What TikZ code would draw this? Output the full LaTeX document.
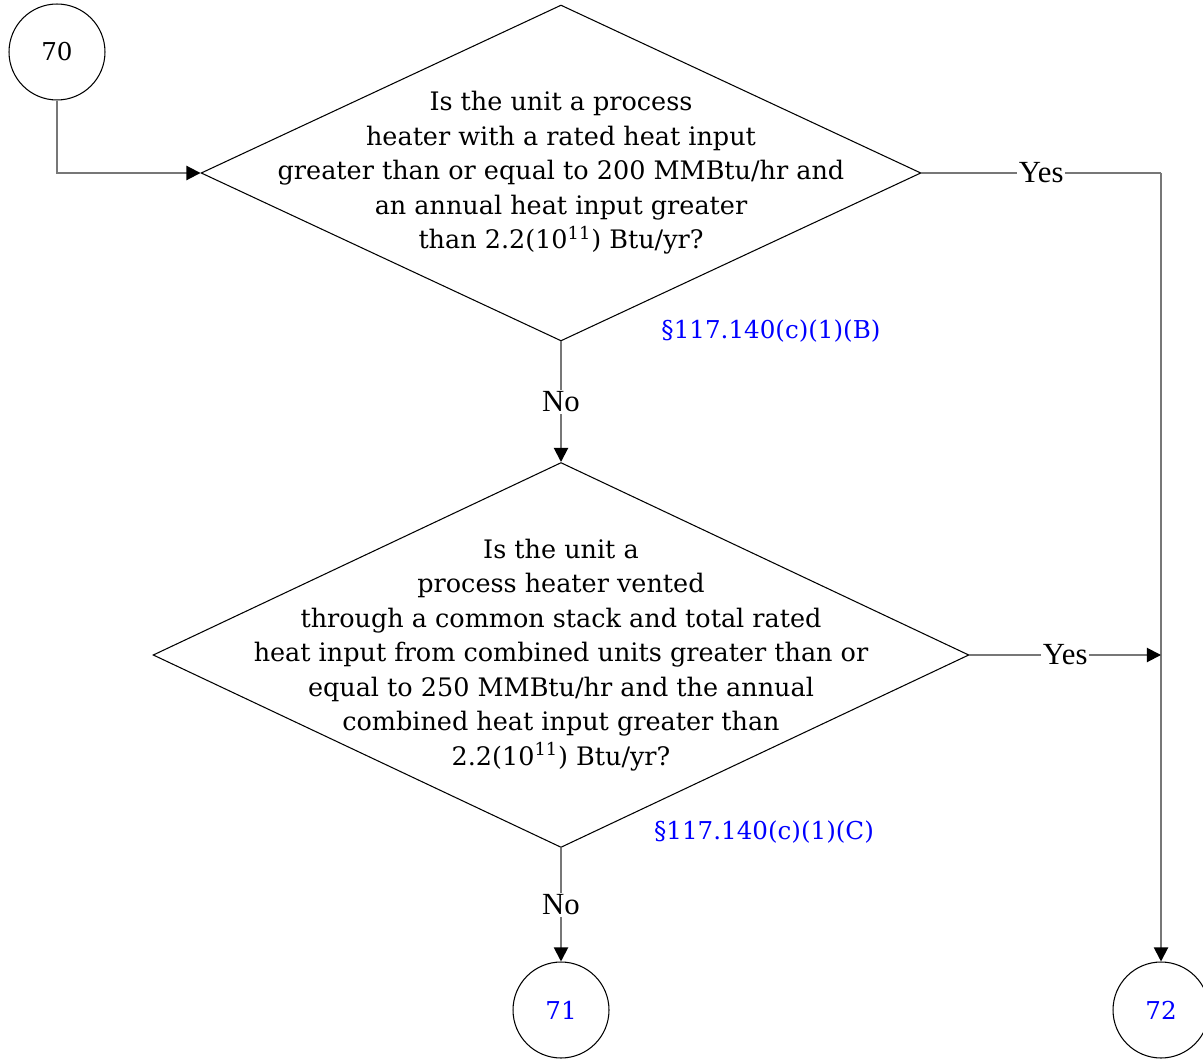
\documentclass[tikz,border=0pt]{standalone}
\usepackage{fontspec}
\setmainfont{Liberation Serif}
\newfontfamily\qfont{DejaVu Serif}
\usepackage{xcolor}
\usetikzlibrary{shapes.geometric,arrows.meta,positioning}
\definecolor{linegray}{HTML}{777777}

\begin{document}
\begin{tikzpicture}[x=0.02cm, y=-0.02cm,
  decision/.style={diamond, draw, line width=0.6pt, inner sep=0pt},
  connector/.style={circle, draw, line width=0.6pt, minimum size=1.92cm, inner sep=0pt, font=\qfont\fontsize{14}{18}\selectfont},
  question/.style={align=center, font=\qfont\fontsize{14.5}{19.6}\selectfont},
  ref/.style={text=blue, font=\qfont\fontsize{14}{18}\selectfont},
  conn/.style={draw=linegray, line width=1.1pt, -{Triangle[length=8pt, width=8pt, color=black]}},
  flow/.style={draw=linegray, line width=1.1pt},
  lbl/.style={fill=white, inner sep=1pt, font=\fontsize{17.5}{18}\selectfont}
]
\useasboundingbox (0,0) rectangle (1203,1060);

% connectors in and out
\node[connector] (c70) at (57,52) {70};
\node[connector, text=blue] (c71) at (561,1010) {71};
\node[connector, text=blue] (c72) at (1161,1010) {72};

% first decision
\node[decision, minimum width=14.4cm, minimum height=6.72cm] (d1) at (561,173) {};
\node[question] (q1) at (d1.center) {Is the unit a process\\
  heater with a rated heat input\\
  greater than or equal to 200 MMBtu/hr and\\
  an annual heat input greater\\
  than 2.2(10\textsuperscript{11}) Btu/yr?};
\node[ref] (r1) at (771,331) {§117.140(c)(1)(B)};

% second decision
\node[decision, minimum width=16.32cm, minimum height=7.7cm] (d2) at (561,655) {};
\node[question] (q2) at (d2.center) {Is the unit a\\
  process heater vented\\
  through a common stack and total rated\\
  heat input from combined units greater than or\\
  equal to 250 MMBtu/hr and the annual\\
  combined heat input greater than\\
  2.2(10\textsuperscript{11}) Btu/yr?};
\node[ref] (r2) at (764,832) {§117.140(c)(1)(C)};

\coordinate (turn) at (1161,173);
\coordinate (join) at (1161,655);

\draw[conn] (c70.south) |- (d1.west);
\draw[flow] (d1.east) -- node[lbl] {Yes} (turn);
\draw[conn] (turn) -- (c72.north);
\draw[conn] (d1.south) -- node[lbl] {No} (d2.north);
\draw[conn] (d2.east) -- node[lbl] {Yes} (join);
\draw[conn] (d2.south) -- node[lbl] {No} (c71.north);
\end{tikzpicture}
\end{document}
